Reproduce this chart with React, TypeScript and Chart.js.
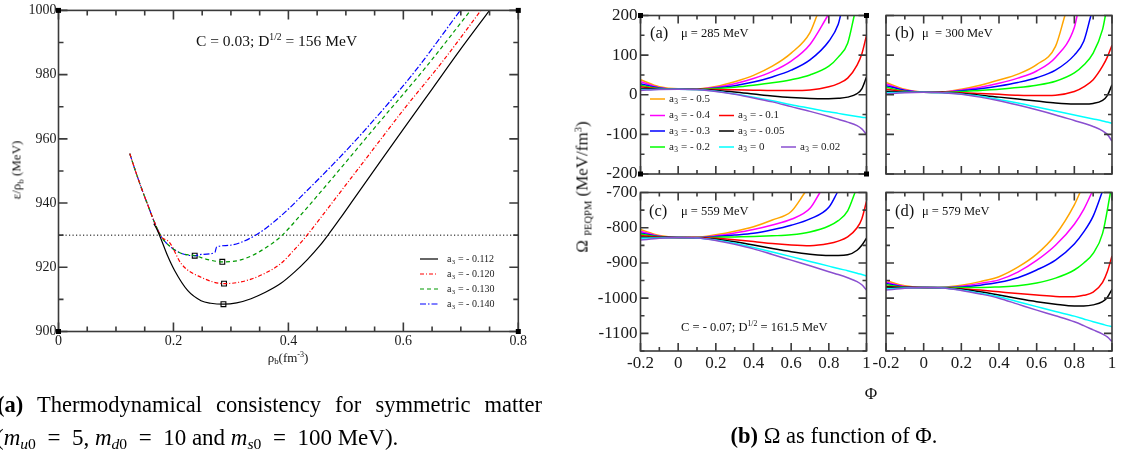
import React, { useEffect, useRef } from 'react';
import { Chart, registerables } from 'chart.js';

Chart.register(...registerables);

const PAGE_W = 1122;
const PAGE_H = 454;
const SERIF = '"Liberation Serif", "Times New Roman", Times, serif';
const FRAME_COLOR = '#3a3a3a';
const TICK_TEXT = '#1a1a1a';

/* ================= Figure (a): energy per baryon vs baryon density ================= */
const a3Left = ['- 0.112', '- 0.120', '- 0.130', '- 0.140'];
const leftColors = ['#000000', '#ff0000', '#009a00', '#0000ff'];
const leftDashes = [[], [4, 2, 1, 2], [4, 3], [6, 2, 1.5, 2]];

const rhoShared = [0.124, 0.132, 0.144, 0.156, 0.167, 0.179, 0.196, 0.214];
const eShared = [955.4, 951.0, 944.8, 939.1, 934.0, 929.5, 926.2, 924.3];

const rhoBlack = [0.166, 0.172, 0.179, 0.19, 0.202, 0.225, 0.248, 0.265, 0.287, 0.31, 0.335, 0.36, 0.387, 0.41, 0.433, 0.455, 0.468, 0.49, 0.514, 0.561, 0.6, 0.65, 0.7, 0.75];
const eBlack = [933.6, 931.5, 928.5, 923.5, 919.0, 912.7, 909.6, 908.8, 908.5, 908.9, 910.2, 912.2, 915.0, 918.4, 922.4, 926.8, 929.8, 935.2, 941.3, 953.2, 963.0, 975.5, 988.0, 1000];

const rhoRed = [0.124, 0.132, 0.144, 0.156, 0.167, 0.179, 0.193, 0.214, 0.248, 0.288, 0.31, 0.335, 0.36, 0.387, 0.41, 0.428, 0.45, 0.48, 0.54, 0.6, 0.67, 0.735];
const eRed = [955.4, 951.0, 944.8, 939.1, 934.0, 929.5, 927.8, 921.0, 916.9, 914.9, 915.2, 916.3, 918.2, 921.2, 925.4, 929.0, 934.0, 941.0, 955.0, 969.0, 984.5, 1000];

const rhoGreen = [...rhoShared, 0.237, 0.26, 0.285, 0.31, 0.335, 0.36, 0.387, 0.42, 0.48, 0.555, 0.64, 0.717];
const eGreen = [...eShared, 923.6, 922.4, 921.7, 922.0, 923.5, 926.0, 929.6, 936.0, 948.5, 964.5, 982.5, 1000];

const rhoBlue = [...rhoShared, 0.237, 0.248, 0.272, 0.275, 0.295, 0.341, 0.387, 0.433, 0.48, 0.532, 0.62, 0.699];
const eBlue = [...eShared, 923.6, 924.0, 924.6, 926.3, 926.8, 929.8, 936.0, 944.0, 952.5, 962.5, 981.0, 1000];

const rhoMinima = [0.287, 0.288, 0.285, 0.237];
const eMinima = [908.5, 914.9, 921.7, 923.6];
const eReference = 930;
const rhoRange = [0, 0.8];

const xTicksLeft = [0, 0.2, 0.4, 0.6, 0.8];
const xLabelsLeft = ['0', '0.2', '0.4', '0.6', '0.8'];
const yTicksLeft = [900, 920, 940, 960, 980, 1000];
const yLabelsLeft = ['900', '920', '940', '960', '980', '1000'];

/* ================= Figure (b): Omega vs Phi, four panels ================= */
const a3Right = ['- 0.5', '- 0.4', '- 0.3', '- 0.2', '- 0.1', '- 0.05', '0', '0.02'];
const rightColors = ['#ffa500', '#ff00ff', '#0000ff', '#00ff00', '#ff0000', '#000000', '#00ffff', '#8a4fd0'];

const phiGrid = [-0.2, -0.1, 0, 0.1, 0.2, 0.3, 0.4, 0.5, 0.6, 0.7, 0.8, 0.85, 0.9, 0.95, 0.975, 1.0];

// panel (a) mu = 285 MeV
const omegaA_m05 = [38, 20, 15, 15, 21, 33, 49, 72, 105, 157, null, null, null, null, null, null];
const omegaA_m04 = [33, 18, 14.5, 14.5, 19, 28, 41, 59, 85, 127, null, null, null, null, null, null];
const omegaA_m03 = [28, 17, 14, 14, 17, 23, 32, 45, 62, 88, 135, 178, null, null, null, null];
const omegaA_m02 = [24, 16, 14, 14, 15.5, 19, 24, 30, 38, 50, 72, 95, 130, null, null, null];
const omegaA_m01 = [20, 15, 14, 14, 13.5, 12.5, 11.5, 10.5, 10.5, 12, 20, 28, 42, 75, 103, 150];
const omegaA_m005 = [16, 14.5, 14, 13.5, 11, 7, 2, -3, -7, -9.5, -10, -9, -6, 3, 15, 45];
const omegaA_0 = [13, 14, 14, 13, 9, 2, -6, -15, -25, -34, -43, -47, -51, -55, -57, -58];
const omegaA_002 = [11, 13.5, 14, 13, 8, 1, -8, -18, -30, -42, -55, -62, -69, -78, -86, -100];
const exitA = [0.737, 0.795, 0.862, 0.935, null, null, null, null];

// panel (b) mu = 300 MeV
const omegaB_m05 = [31, 14, 7, 7, 14, 24, 37, 52, 76, 122, null, null, null, null, null, null];
const omegaB_m04 = [27, 12, 6.5, 7, 12, 19, 29, 42, 60, 94, 170, null, null, null, null, null];
const omegaB_m03 = [23, 11, 6.5, 6.5, 10, 15, 22, 31, 43, 62, 100, 135, null, null, null, null];
const omegaB_m02 = [19, 9, 6, 6, 8, 11, 14, 18, 24, 34, 55, 75, 105, 165, null, null];
const omegaB_m01 = [14, 8, 6, 6, 5, 3, 1, -1, -2, -1, 8, 20, 38, 72, 95, 125];
const omegaB_m005 = [9, 7, 6, 5.5, 3, -1, -6, -11, -16, -21, -23.5, -23.5, -22, -14, -2, 25];
const omegaB_0 = [5, 6, 6, 5, 2, -4, -12, -21, -31, -41, -51, -56, -61, -66, -69, -72];
const omegaB_002 = [2, 5, 6, 5, 1, -6, -15, -26, -38, -51, -65, -72, -80, -91, -100, -117];
const exitB = [0.75, 0.815, 0.888, 0.965, null, null, null, null];

// panel (c) mu = 559 MeV
const omegaC_m05 = [-805, -822, -827, -827, -820, -810, -797, -778, -754, null, null, null, null, null, null, null];
const omegaC_m04 = [-810, -824, -828, -828, -823, -815, -805, -792, -776, -745, null, null, null, null, null, null];
const omegaC_m03 = [-815, -825, -828, -828, -825, -821, -816, -806, -793, -775, -742, null, null, null, null, null];
const omegaC_m02 = [-818, -826, -828, -828, -827, -826, -825, -823, -820, -812, -795, -780, -752, null, null, null];
const omegaC_m01 = [-822, -827, -828, -828, -830, -834, -839, -845, -849, -851, -845, -838, -826, -800, -775, -725];
const omegaC_m005 = [-826, -828, -828, -829, -833, -840, -849, -859, -868, -875, -879, -879, -877, -864, -850, -830];
const omegaC_0 = [-830, -829, -828, -829, -835, -844, -856, -869, -882, -896, -909, -916, -922, -929, -933, -937];
const omegaC_002 = [-835, -830, -828, -829, -836, -847, -860, -876, -892, -908, -925, -933, -942, -953, -962, -977];
const exitC = [0.673, 0.753, 0.845, 0.939, null, null, null, null];

// panel (d) mu = 579 MeV
const omegaD_m05 = [-950, -965, -970, -969, -963, -953, -939, -912, -875, -820, -735, null, null, null, null, null];
const omegaD_m04 = [-955, -967, -970, -970, -966, -958, -948, -926, -893, -850, -790, -748, null, null, null, null];
const omegaD_m03 = [-958, -968, -970, -970, -968, -963, -955, -942, -920, -892, -846, -812, -767, null, null, null];
const omegaD_m02 = [-962, -969, -970, -970, -970, -970, -968, -965, -957, -943, -920, -900, -873, -816, null, null];
const omegaD_m01 = [-966, -970, -970, -971, -973, -977, -982, -987, -991, -995, -996, -992, -983, -955, -925, -880];
const omegaD_m005 = [-968, -970, -970, -971, -975, -982, -991, -1001, -1010, -1017, -1022, -1022, -1019, -1010, -998, -975];
const omegaD_0 = [-973, -971, -970, -971, -977, -986, -996, -1010, -1024, -1038, -1051, -1059, -1067, -1074, -1078, -1081];
const omegaD_002 = [-977, -972, -970, -971, -978, -988, -1000, -1017, -1034, -1050, -1067, -1078, -1090, -1102, -1110, -1123];
const exitD = [0.83, 0.893, 0.947, 0.992, null, null, null, null];

const phiRange = [-0.2, 1.0];
const xTicksRight = [-0.2, 0, 0.2, 0.4, 0.6, 0.8, 1.0];
const xLabelsRight = ['-0.2', '0', '0.2', '0.4', '0.6', '0.8', '1'];
const yRangeTop = [-200, 200];
const yTicksTop = [-200, -100, 0, 100, 200];
const yLabelsTop = ['-200', '-100', '0', '100', '200'];
const yRangeBottom = [-1150, -700];
const yTicksBottom = [-1100, -1000, -900, -800, -700];
const yLabelsBottom = ['-1100', '-1000', '-900', '-800', '-700'];

/* ================= helpers ================= */
type Pt = { x: number; y: number };
const pts = (xs: number[], ys: number[]): Pt[] => xs.map((x, i) => ({ x, y: ys[i] }));

function minorValues(min: number, max: number, step: number, majors: number[]) {
  const out: number[] = [];
  const n0 = Math.ceil(min / step - 1e-6);
  const n1 = Math.floor(max / step + 1e-6);
  for (let n = n0; n <= n1; n++) {
    const v = n * step;
    if (!majors.some((m) => Math.abs(m - v) < step * 1e-3)) out.push(v);
  }
  return out;
}

function makeFramePlugin(cfg: { xMajor: number[]; xMinor: number; yMajor: number[]; yMinor: number; major: number; minor: number; corners: boolean }) {
  return {
    id: 'frame',
    afterDatasetsDraw(chart: any) {
      const { ctx, chartArea: a, scales } = chart;
      const xs = scales.x;
      const ys = scales.y;
      ctx.save();
      ctx.setLineDash([]);
      ctx.strokeStyle = FRAME_COLOR;
      ctx.lineWidth = 1.6;
      ctx.beginPath();
      const tickX = (v: number, len: number) => {
        const p = xs.getPixelForValue(v);
        ctx.moveTo(p, a.bottom);
        ctx.lineTo(p, a.bottom - len);
        ctx.moveTo(p, a.top);
        ctx.lineTo(p, a.top + len);
      };
      const tickY = (v: number, len: number) => {
        const p = ys.getPixelForValue(v);
        ctx.moveTo(a.left, p);
        ctx.lineTo(a.left + len, p);
        ctx.moveTo(a.right, p);
        ctx.lineTo(a.right - len, p);
      };
      cfg.xMajor.forEach((v) => tickX(v, cfg.major));
      minorValues(xs.min, xs.max, cfg.xMinor, cfg.xMajor).forEach((v) => tickX(v, cfg.minor));
      cfg.yMajor.forEach((v) => tickY(v, cfg.major));
      minorValues(ys.min, ys.max, cfg.yMinor, cfg.yMajor).forEach((v) => tickY(v, cfg.minor));
      ctx.stroke();
      ctx.strokeRect(a.left, a.top, a.right - a.left, a.bottom - a.top);
      if (cfg.corners) {
        ctx.fillStyle = '#000';
        const s = 5;
        [[a.left, a.top], [a.right, a.top], [a.left, a.bottom], [a.right, a.bottom]].forEach(([cx, cy]) => {
          ctx.fillRect(cx - s / 2, cy - s / 2, s, s);
        });
      }
      ctx.restore();
    },
  };
}

function drawSubLabel(ctx: CanvasRenderingContext2D, text: string, x: number, y: number, size: number) {
  const parts = text.split('₃');
  ctx.textBaseline = 'middle';
  ctx.textAlign = 'left';
  ctx.font = `${size}px ${SERIF}`;
  ctx.fillText(parts[0], x, y);
  let cx = x + ctx.measureText(parts[0]).width;
  if (parts.length > 1) {
    ctx.font = `${size * 0.68}px ${SERIF}`;
    ctx.fillText('3', cx + 0.3, y + size * 0.32);
    cx += ctx.measureText('3').width + 0.6;
    ctx.font = `${size}px ${SERIF}`;
    ctx.fillText(parts[1], cx, y);
  }
}

function makeLegendPlugin(cfg: { items: { ds: number; x: number; y: number }[]; lineLen: number; gap: number; size: number }) {
  return {
    id: 'richLegend',
    afterDraw(chart: any) {
      const { ctx } = chart;
      ctx.save();
      cfg.items.forEach((it) => {
        const ds = chart.data.datasets[it.ds];
        ctx.strokeStyle = ds.borderColor;
        ctx.lineWidth = ds.borderWidth;
        ctx.setLineDash(ds.borderDash || []);
        ctx.beginPath();
        ctx.moveTo(it.x, it.y);
        ctx.lineTo(it.x + cfg.lineLen, it.y);
        ctx.stroke();
        ctx.setLineDash([]);
        ctx.fillStyle = '#222';
        drawSubLabel(ctx, ds.label, it.x + cfg.lineLen + cfg.gap, it.y, cfg.size);
      });
      ctx.restore();
    },
  };
}

type AxisCfg = {
  area: [number, number, number, number];
  yW: number;
  xH: number;
  xRange: number[];
  yRange: number[];
  xTicks: number[];
  xLabels: string[];
  yTicks: number[];
  yLabels: string[];
  showX: boolean;
  showY: boolean;
  fontSize: number;
  xPad: number;
  yPad: number;
};

function baseConfig(ax: AxisCfg, datasets: any[], plugins: any[]) {
  const [l, t, r, b] = ax.area;
  return {
    type: 'line',
    data: { datasets },
    options: {
      responsive: false,
      animation: false,
      devicePixelRatio: 1,
      events: [],
      layout: {
        autoPadding: false,
        padding: { left: l - ax.yW, top: t, right: PAGE_W - r, bottom: PAGE_H - b - ax.xH },
      },
      plugins: { legend: { display: false }, tooltip: { enabled: false } },
      elements: { point: { radius: 0 } },
      scales: {
        x: {
          type: 'linear',
          min: ax.xRange[0],
          max: ax.xRange[1],
          afterFit: (s: any) => { s.height = ax.xH; },
          afterBuildTicks: (s: any) => { s.ticks = ax.xTicks.map((v) => ({ value: v })); },
          ticks: {
            display: ax.showX,
            autoSkip: false,
            maxRotation: 0,
            padding: ax.xPad,
            color: TICK_TEXT,
            font: { family: SERIF, size: ax.fontSize },
            callback: (_v: any, i: number) => ax.xLabels[i],
          },
          grid: { display: false, drawTicks: false },
          border: { display: false },
        },
        y: {
          type: 'linear',
          min: ax.yRange[0],
          max: ax.yRange[1],
          afterFit: (s: any) => { s.width = ax.yW; },
          afterBuildTicks: (s: any) => { s.ticks = ax.yTicks.map((v) => ({ value: v })); },
          ticks: {
            display: ax.showY,
            autoSkip: false,
            padding: ax.yPad,
            color: TICK_TEXT,
            font: { family: SERIF, size: ax.fontSize },
            callback: (_v: any, i: number) => ax.yLabels[i],
          },
          grid: { display: false, drawTicks: false },
          border: { display: false },
        },
      },
    },
    plugins,
  };
}

function leftConfig() {
  const xs = [rhoBlack, rhoRed, rhoGreen, rhoBlue];
  const ys = [eBlack, eRed, eGreen, eBlue];
  const curves = xs.map((xv, k) => ({
    label: `a₃ = ${a3Left[k]}`,
    data: pts(xv, ys[k]),
    borderColor: leftColors[k],
    borderWidth: 1.2,
    borderDash: leftDashes[k],
    pointRadius: 0,
    cubicInterpolationMode: 'monotone',
    fill: false,
  }));
  const minima = {
    label: 'minima',
    data: pts(rhoMinima, eMinima),
    showLine: false,
    pointStyle: 'rect',
    pointRadius: 3.4,
    pointBorderWidth: 1.1,
    pointBorderColor: '#000',
    pointBackgroundColor: '#fff',
  };
  const reference = {
    label: 'reference',
    data: pts(rhoRange, [eReference, eReference]),
    borderColor: '#000',
    borderWidth: 1,
    borderDash: [1.2, 2.3],
    pointRadius: 0,
  };
  const ax: AxisCfg = {
    area: [58.5, 8.5, 518.3, 331.5],
    yW: 50,
    xH: 20,
    xRange: rhoRange,
    yRange: [900, 1000],
    xTicks: xTicksLeft,
    xLabels: xLabelsLeft,
    yTicks: yTicksLeft,
    yLabels: yLabelsLeft,
    showX: true,
    showY: true,
    fontSize: 14,
    xPad: 1,
    yPad: 2,
  };
  const frame = makeFramePlugin({ xMajor: xTicksLeft, xMinor: 0.05, yMajor: yTicksLeft, yMinor: 10, major: 9, minor: 5, corners: true });
  const legend = makeLegendPlugin({
    items: [
      { ds: 0, x: 420, y: 259 },
      { ds: 1, x: 420, y: 274 },
      { ds: 2, x: 420, y: 289 },
      { ds: 3, x: 420, y: 304 },
    ],
    lineLen: 18,
    gap: 9,
    size: 10,
  });
  return baseConfig(ax, [...curves, minima, reference], [frame, legend]);
}

function panelDatasets(values: (number | null)[][], exits: (number | null)[], yTop: number) {
  return values.map((vals, k) => {
    const data: Pt[] = [];
    const ex = exits[k];
    phiGrid.forEach((p, i) => {
      const v = vals[i];
      if (v !== null && (ex === null || p < ex)) data.push({ x: p, y: v });
    });
    if (ex !== null) data.push({ x: ex, y: yTop });
    return {
      label: `a₃ = ${a3Right[k]}`,
      data,
      borderColor: rightColors[k],
      borderWidth: 1.5,
      pointRadius: 0,
      cubicInterpolationMode: 'monotone',
      fill: false,
    };
  });
}

type PanelKey = 'a' | 'b' | 'c' | 'd';
const panelAreas: Record<PanelKey, [number, number, number, number]> = {
  a: [640.5, 15.5, 866.5, 174],
  b: [886, 15.5, 1112, 174],
  c: [640.5, 192.5, 866.5, 351],
  d: [886, 192.5, 1112, 351],
};

function panelConfig(key: PanelKey) {
  const top = key === 'a' || key === 'b';
  const left = key === 'a' || key === 'c';
  const values =
    key === 'a' ? [omegaA_m05, omegaA_m04, omegaA_m03, omegaA_m02, omegaA_m01, omegaA_m005, omegaA_0, omegaA_002]
    : key === 'b' ? [omegaB_m05, omegaB_m04, omegaB_m03, omegaB_m02, omegaB_m01, omegaB_m005, omegaB_0, omegaB_002]
    : key === 'c' ? [omegaC_m05, omegaC_m04, omegaC_m03, omegaC_m02, omegaC_m01, omegaC_m005, omegaC_0, omegaC_002]
    : [omegaD_m05, omegaD_m04, omegaD_m03, omegaD_m02, omegaD_m01, omegaD_m005, omegaD_0, omegaD_002];
  const exits = key === 'a' ? exitA : key === 'b' ? exitB : key === 'c' ? exitC : exitD;
  const yRange = top ? yRangeTop : yRangeBottom;
  const yTicks = top ? yTicksTop : yTicksBottom;
  const datasets = panelDatasets(values, exits, yRange[1]).reverse();
  const ax: AxisCfg = {
    area: panelAreas[key],
    yW: left ? 60 : 0,
    xH: top ? 0 : 30,
    xRange: phiRange,
    yRange,
    xTicks: xTicksRight,
    xLabels: xLabelsRight,
    yTicks,
    yLabels: top ? yLabelsTop : yLabelsBottom,
    showX: !top,
    showY: left,
    fontSize: 17,
    xPad: 2,
    yPad: 3,
  };
  const plugins: any[] = [
    makeFramePlugin({ xMajor: xTicksRight, xMinor: 0.1, yMajor: yTicks, yMinor: 50, major: 8, minor: 4, corners: key === 'a' }),
  ];
  if (key === 'a') {
    const idx = (k: number) => 7 - k; // datasets are reversed
    plugins.push(
      makeLegendPlugin({
        items: [
          { ds: idx(0), x: 650, y: 99 },
          { ds: idx(1), x: 650, y: 115.5 },
          { ds: idx(2), x: 650, y: 131 },
          { ds: idx(3), x: 650, y: 147 },
          { ds: idx(4), x: 719, y: 115.5 },
          { ds: idx(5), x: 719, y: 131 },
          { ds: idx(6), x: 719, y: 147 },
          { ds: idx(7), x: 781, y: 147 },
        ],
        lineLen: 15,
        gap: 4,
        size: 11,
      })
    );
  }
  return baseConfig(ax, datasets, plugins);
}

function ChartCanvas({ make }: { make: () => any }) {
  const ref = useRef<HTMLCanvasElement>(null);
  useEffect(() => {
    const chart = new Chart(ref.current as HTMLCanvasElement, make());
    return () => chart.destroy();
  }, []);
  return (
    <canvas
      ref={ref}
      width={PAGE_W}
      height={PAGE_H}
      style={{ position: 'absolute', left: 0, top: 0, width: PAGE_W, height: PAGE_H }}
    />
  );
}

const supStyle: React.CSSProperties = { fontSize: '0.62em', verticalAlign: '0.6em', lineHeight: 0 };
const subStyle: React.CSSProperties = { fontSize: '0.68em', verticalAlign: '-0.3em', lineHeight: 0 };

function Txt({ x, y, size, children, style }: { x: number; y: number; size: number; children: React.ReactNode; style?: React.CSSProperties }) {
  return (
    <div
      style={{
        position: 'absolute',
        left: x,
        top: y,
        transform: 'translateY(-50%)',
        fontSize: size,
        lineHeight: 1,
        whiteSpace: 'nowrap',
        fontFamily: SERIF,
        color: '#111',
        ...style,
      }}
    >
      {children}
    </div>
  );
}

function RotTxt({ cx, cy, size, children }: { cx: number; cy: number; size: number; children: React.ReactNode }) {
  return (
    <div
      style={{
        position: 'absolute',
        left: cx,
        top: cy,
        transform: 'translate(-50%, -50%) rotate(-90deg)',
        fontSize: size,
        lineHeight: 1,
        whiteSpace: 'nowrap',
        fontFamily: SERIF,
        color: '#111',
      }}
    >
      {children}
    </div>
  );
}

const EQ = '\u2002=\u2002';

export default function App() {
  return (
    <div
      style={{
        position: 'absolute',
        left: 0,
        top: 0,
        width: PAGE_W,
        height: PAGE_H,
        overflow: 'hidden',
        background: '#fff',
        fontFamily: SERIF,
      }}
    >
      <ChartCanvas make={leftConfig} />
      <ChartCanvas make={() => panelConfig('a')} />
      <ChartCanvas make={() => panelConfig('b')} />
      <ChartCanvas make={() => panelConfig('c')} />
      <ChartCanvas make={() => panelConfig('d')} />

      {/* figure (a) texts */}
      <Txt x={196} y={41} size={15.5}>
        C = 0.03; D<sup style={supStyle}>1/2</sup> = 156 MeV
      </Txt>
      <RotTxt cx={16} cy={170} size={13}>
        ε/ρ<sub style={subStyle}>b</sub> (MeV)
      </RotTxt>
      <Txt x={288} y={357} size={13} style={{ transform: 'translate(-50%, -50%)' }}>
        ρ<sub style={subStyle}>b</sub>(fm<sup style={supStyle}>-3</sup>)
      </Txt>

      {/* figure (b) texts */}
      <Txt x={650} y={33} size={16.5}>(a)</Txt>
      <Txt x={681} y={33} size={12.5}>μ = 285 MeV</Txt>
      <Txt x={895} y={33} size={16.5}>(b)</Txt>
      <Txt x={922} y={33} size={12.5}>μ&nbsp;&nbsp;= 300 MeV</Txt>
      <Txt x={649} y={211} size={16.5}>(c)</Txt>
      <Txt x={681} y={211} size={12.5}>μ = 559 MeV</Txt>
      <Txt x={895} y={211} size={16.5}>(d)</Txt>
      <Txt x={922} y={211} size={12.5}>μ = 579 MeV</Txt>
      <Txt x={681} y={327} size={12.5}>
        C = - 0.07; D<sup style={supStyle}>1/2</sup> = 161.5 MeV
      </Txt>
      <RotTxt cx={582} cy={187} size={17}>
        Ω <span style={{ fontSize: '0.62em', verticalAlign: '-0.35em', lineHeight: 0 }}>PEQPM</span> (MeV/fm<sup style={supStyle}>3</sup>)
      </RotTxt>
      <Txt x={871} y={393} size={17} style={{ transform: 'translate(-50%, -50%)' }}>Φ</Txt>

      {/* captions */}
      <div
        style={{
          position: 'absolute',
          left: -3,
          top: 394,
          width: 545,
          fontSize: 22.5,
          lineHeight: 1,
          textAlign: 'justify',
          textAlignLast: 'justify' as any,
          fontFamily: SERIF,
          color: '#000',
          whiteSpace: 'nowrap',
        }}
      >
        <b>(a)</b> Thermodynamical consistency for symmetric matter
      </div>
      <Txt x={-4} y={437} size={23} style={{ color: '#000' }}>
        (<i>m</i><sub style={subStyle}><i>u</i>0</sub>{EQ}5, <i>m</i><sub style={subStyle}><i>d</i>0</sub>{EQ}10 and <i>m</i><sub style={subStyle}><i>s</i>0</sub>{EQ}100 MeV).
      </Txt>
      <div
        style={{
          position: 'absolute',
          left: 634,
          top: 425,
          width: 400,
          textAlign: 'center',
          fontSize: 22.5,
          lineHeight: 1,
          fontFamily: SERIF,
          color: '#000',
        }}
      >
        <b>(b)</b> Ω as function of Φ.
      </div>
    </div>
  );
}
